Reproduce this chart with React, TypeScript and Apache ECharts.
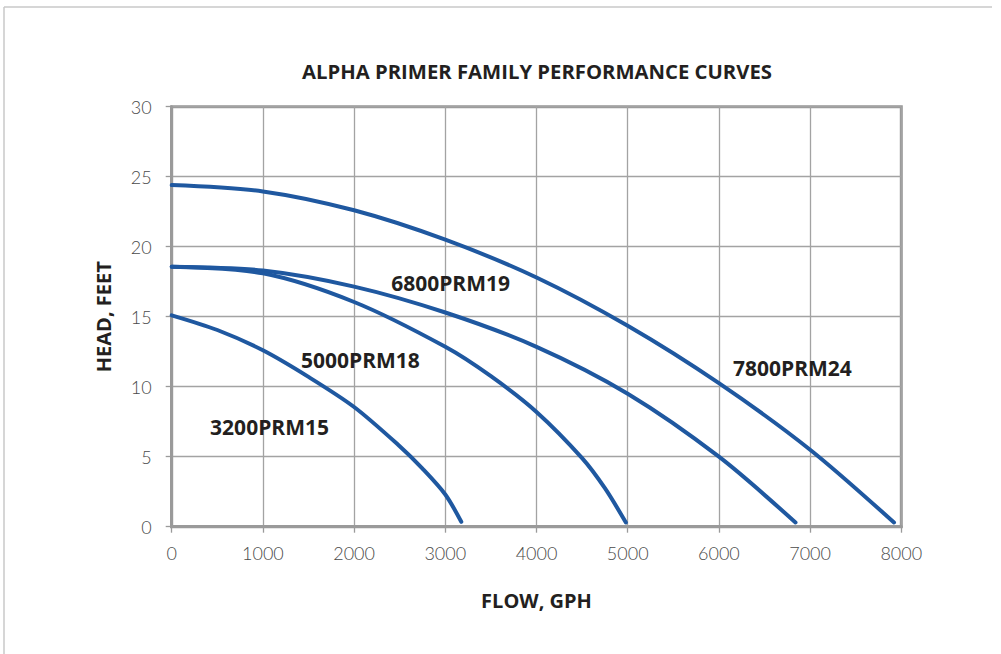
import React, { useEffect, useRef } from "react";
import * as echarts from "echarts";

const TITLE = "ALPHA PRIMER FAMILY PERFORMANCE CURVES";
const X_NAME = "FLOW, GPH";
const Y_NAME = "HEAD, FEET";

const seriesNames = ["7800PRM24", "6800PRM19", "5000PRM18", "3200PRM15"];

const curve7800: [number, number][] = [
  [0, 24.4], [1000, 23.95], [2000, 22.6], [3000, 20.5], [4000, 17.8],
  [5000, 14.35], [6000, 10.25], [7000, 5.5], [7920, 0.3],
];
const curve6800: [number, number][] = [
  [0, 18.57], [1000, 18.3], [2000, 17.15], [3000, 15.3], [4000, 12.85],
  [5000, 9.5], [6000, 5.0], [6840, 0.3],
];
const curve5000: [number, number][] = [
  [0, 18.57], [1000, 18.1], [2000, 16.05], [3000, 12.85], [3500, 10.75],
  [4000, 8.2], [4500, 4.9], [4750, 2.75], [4980, 0.3],
];
const curve3200: [number, number][] = [
  [0, 15.1], [500, 14.05], [1000, 12.6], [1500, 10.7], [2000, 8.55],
  [2500, 5.75], [2750, 4.15], [3000, 2.3], [3175, 0.35],
];

// where each curve's name is written, in data units
const labelAnchors: [number, number][] = [
  [6806, 11.36], [3058, 17.4], [2069, 11.9], [1073, 7.14],
];

const xTicks = { min: 0, max: 8000, interval: 1000 };
const yTicks = { min: 0, max: 30, interval: 5 };

const BLUE = "#1f58a0";
const BOLD_FONT = "'Open Sans', 'Noto Sans', sans-serif";
const LIGHT_FONT = "Lato, 'Open Sans', sans-serif";

export default function App() {
  const ref = useRef<HTMLDivElement>(null);
  useEffect(() => {
    if (!ref.current) return;
    const chart = echarts.init(ref.current, undefined, { renderer: "svg" });
    const curves = [curve7800, curve6800, curve5000, curve3200];
    const option: any = {
      animation: false,
      backgroundColor: "#ffffff",
      grid: {
        left: 171.7,
        top: 106.7,
        right: 99.7,
        bottom: 127.3,
        show: true,
        borderColor: "#9a9a9a",
        borderWidth: 3,
      },
      graphic: [
        {
          type: "line",
          shape: { x1: 4, y1: 7, x2: 4, y2: 660 },
          style: { stroke: "#c8c8c8", lineWidth: 1.5 },
        },
        {
          type: "line",
          shape: { x1: 4, y1: 7, x2: 992, y2: 7 },
          style: { stroke: "#c8c8c8", lineWidth: 1.5 },
        },
        {
          type: "text",
          x: 537,
          y: 70.5,
          style: {
            text: TITLE,
            fontFamily: BOLD_FONT,
            fontWeight: 700,
            fontSize: 20.3,
            fill: "#231f20",
            textAlign: "center",
            textVerticalAlign: "middle",
          },
        },
      ],
      xAxis: {
        type: "value",
        min: xTicks.min,
        max: xTicks.max,
        interval: xTicks.interval,
        name: X_NAME,
        nameLocation: "middle",
        nameGap: 64,
        nameTextStyle: {
          fontFamily: BOLD_FONT,
          fontWeight: 700,
          fontSize: 20,
          color: "#231f20",
        },
        axisLine: { show: true, lineStyle: { color: "#9a9a9a", width: 3 } },
        axisTick: { show: true, inside: false, length: 6, lineStyle: { color: "#9a9a9a", width: 1.3 } },
        axisLabel: {
          margin: 17,
          fontFamily: LIGHT_FONT,
          fontWeight: 300,
          fontSize: 18,
          color: "#4a4a4a",
          formatter: (v: number) => String(v),
        },
        splitLine: { show: true, lineStyle: { color: "#a3a3a3", width: 1.3 } },
      },
      yAxis: {
        type: "value",
        min: yTicks.min,
        max: yTicks.max,
        interval: yTicks.interval,
        name: Y_NAME,
        nameLocation: "middle",
        nameGap: 58,
        nameRotate: 90,
        nameTextStyle: {
          fontFamily: BOLD_FONT,
          fontWeight: 700,
          fontSize: 20,
          color: "#231f20",
        },
        axisLine: { show: true, lineStyle: { color: "#9a9a9a", width: 3 } },
        axisTick: { show: true, inside: false, length: 6, lineStyle: { color: "#9a9a9a", width: 1.3 } },
        axisLabel: {
          margin: 20,
          fontFamily: LIGHT_FONT,
          fontWeight: 300,
          fontSize: 18,
          color: "#4a4a4a",
          formatter: (v: number) => String(v),
        },
        splitLine: { show: true, lineStyle: { color: "#a3a3a3", width: 1.3 } },
      },
      series: curves.map((c, i) => ({
        type: "line",
        name: seriesNames[i],
        data: c,
        smooth: 0.3,
        showSymbol: false,
        symbol: "none",
        lineStyle: { color: BLUE, width: 4, cap: "round" },
        z: 3,
        markPoint: {
          symbol: "circle",
          symbolSize: 0,
          silent: true,
          data: [
            {
              coord: labelAnchors[i],
              label: {
                show: true,
                formatter: seriesNames[i],
                position: "inside",
                fontFamily: BOLD_FONT,
                fontWeight: 700,
                fontSize: 21,
                color: "#231f20",
              },
            },
          ],
        },
      })),
    };
    chart.setOption(option);
    return () => chart.dispose();
  }, []);
  return (
    <div
      ref={ref}
      style={{ position: "fixed", left: 0, top: 0, width: 1001, height: 654 }}
    />
  );
}
